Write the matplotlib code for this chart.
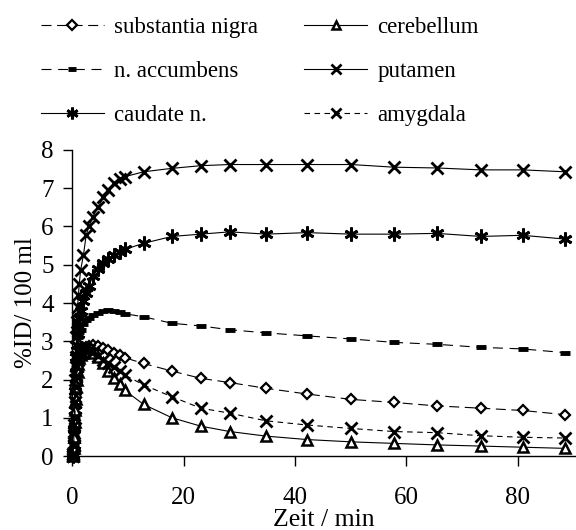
#!/usr/bin/env python3
"""
Time-activity curves (%ID / 100 ml) for six brain regions.
Writes out.png (576x530 px).
"""
import matplotlib

matplotlib.use("Agg")
import matplotlib.pyplot as plt

# data ---------------------------------------------------------------

# frame mid times in minutes
zeit = [0.05, 0.15, 0.25, 0.35, 0.45, 0.55, 0.65, 0.75, 0.85, 0.95, 1.1, 1.25,
        1.5, 2.0, 2.5, 3.0, 3.7, 4.6, 5.6, 6.5, 7.5, 8.5, 9.4,
        12.8, 17.9, 23.1, 28.3, 34.8, 42.2, 50.1, 57.8, 65.5, 73.4, 80.9, 88.6]

substantia_nigra = [0.0, 0.05, 0.2, 0.5, 0.8, 1.1, 1.4, 1.7, 2.0, 2.2, 2.4, 2.55,
                    2.7, 2.8, 2.85, 2.88, 2.9, 2.87, 2.82, 2.76, 2.7, 2.63, 2.57,
                    2.42, 2.22, 2.03, 1.92, 1.77, 1.62, 1.48, 1.40, 1.31, 1.25, 1.19, 1.08]

n_accumbens = [0.0, 0.05, 0.25, 0.6, 1.0, 1.5, 1.9, 2.3, 2.6, 2.9, 3.1, 3.25,
               3.3, 3.45, 3.55, 3.6, 3.68, 3.75, 3.8, 3.82, 3.8, 3.76, 3.72,
               3.64, 3.47, 3.40, 3.30, 3.22, 3.14, 3.06, 2.97, 2.92, 2.84, 2.80, 2.70]

caudate_n = [0.0, 0.05, 0.3, 0.7, 1.2, 1.7, 2.2, 2.6, 2.9, 3.2, 3.4, 3.6,
             3.8, 4.05, 4.25, 4.45, 4.7, 4.9, 5.05, 5.15, 5.25, 5.33, 5.4,
             5.56, 5.74, 5.80, 5.86, 5.80, 5.84, 5.80, 5.80, 5.82, 5.74, 5.77, 5.67]

cerebellum = [0.0, 0.05, 0.2, 0.5, 0.9, 1.2, 1.5, 1.8, 2.0, 2.2, 2.4, 2.55,
              2.65, 2.7, 2.72, 2.72, 2.68, 2.58, 2.42, 2.22, 2.05, 1.87, 1.72,
              1.35, 1.00, 0.78, 0.64, 0.52, 0.43, 0.37, 0.33, 0.29, 0.26, 0.23, 0.20]

putamen = [0.0, 0.05, 0.3, 0.8, 1.4, 2.0, 2.6, 3.1, 3.5, 3.9, 4.2, 4.5,
           4.86, 5.25, 5.78, 6.0, 6.26, 6.5, 6.76, 6.96, 7.13, 7.23, 7.3,
           7.43, 7.52, 7.59, 7.62, 7.62, 7.62, 7.62, 7.55, 7.53, 7.48, 7.48, 7.43]

amygdala = [0.0, 0.05, 0.25, 0.6, 1.0, 1.4, 1.8, 2.1, 2.35, 2.5, 2.6, 2.7,
            2.75, 2.8, 2.8, 2.78, 2.72, 2.62, 2.52, 2.42, 2.32, 2.22, 2.12,
            1.86, 1.55, 1.25, 1.12, 0.92, 0.81, 0.72, 0.64, 0.61, 0.53, 0.49, 0.47]

x_ticks = [0, 20, 40, 60, 80]
y_ticks = [0, 1, 2, 3, 4, 5, 6, 7, 8]

# plotting -----------------------------------------------------------

plt.rcParams["font.family"] = ["Liberation Serif", "DejaVu Serif"]
plt.rcParams["font.size"] = 18

fig = plt.figure(figsize=(5.76, 5.30), dpi=100)
ax = fig.add_axes([0.1255, 0.1396, 0.8745, 0.5774])

lw = 0.8
common = dict(color="black", linewidth=lw, clip_on=False)

# legend order is column-major: left column first, then right column
ax.plot(zeit, substantia_nigra, label="substantia nigra", linestyle=(0, (9, 5)),
        marker="D", markersize=5.5, markerfacecolor="white", markeredgewidth=1.6, **common)
ax.plot(zeit, n_accumbens, label="n. accumbens", linestyle=(0, (9, 6)),
        marker="_", markersize=7, markeredgewidth=3.5, **common)
ax.plot(zeit, caudate_n, label="caudate n.", linestyle="-",
        marker=(6, 2, 0), markersize=10, markeredgewidth=2.0, **common)
ax.plot(zeit, cerebellum, label="cerebellum", linestyle="-",
        marker="^", markersize=7, markerfacecolor="white", markeredgewidth=1.8, **common)
ax.plot(zeit, putamen, label="putamen", linestyle="-",
        marker="x", markersize=9, markeredgewidth=2.0, **common)
ax.plot(zeit, amygdala, label="amygdala", linestyle=(0, (5, 4)),
        marker="x", markersize=9, markeredgewidth=2.0, **common)

ax.set_xlim(0, 90.5)
ax.set_ylim(0, 8)
ax.set_xticks(x_ticks)
ax.set_yticks(y_ticks)

for side in ("top", "right"):
    ax.spines[side].set_visible(False)
for side in ("left", "bottom"):
    ax.spines[side].set_linewidth(1.0)

ax.tick_params(axis="x", direction="out", length=7, width=1.0, pad=15)
ax.tick_params(axis="y", direction="out", length=6.5, width=1.0, pad=7)

ax.set_xlabel("Zeit / min", fontsize=18.5)
ax.xaxis.set_label_coords(0.5, -0.172)
ax.set_ylabel("%ID/ 100 ml")
ax.yaxis.set_label_coords(-0.07, 0.5)

leg = fig.legend(loc="upper left", bbox_to_anchor=(0.055, 0.985), ncol=2, frameon=False,
                 numpoints=1, fontsize=16.5, handlelength=2.75, handletextpad=0.45,
                 columnspacing=2.0, labelspacing=1.0, borderaxespad=0.0, markerscale=0.85)

fig.savefig("out.png", dpi=100, facecolor="white")
plt.close(fig)
